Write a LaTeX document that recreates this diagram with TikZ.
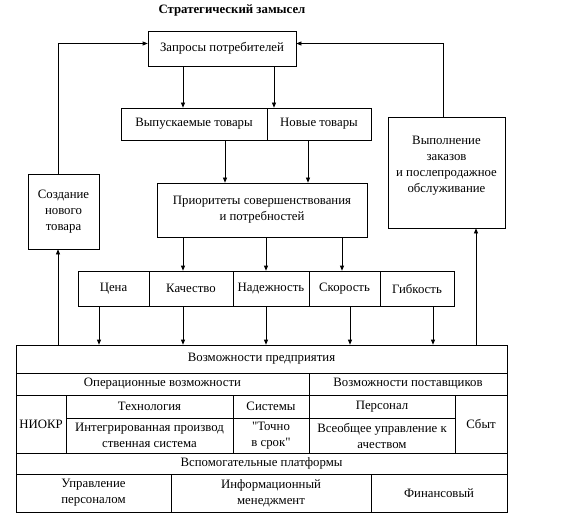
\documentclass[tikz,border=0pt]{standalone}
\usepackage{fontspec}
\setmainfont{Liberation Serif}
\usepackage{tikz}
\usetikzlibrary{arrows.meta, positioning}

\begin{document}
\begin{tikzpicture}[x=1pt, y=-1pt, line width=0.7pt,
    font=\fontsize{12.8}{16}\selectfont,
    box/.style={draw, rectangle, inner sep=0pt, align=center},
    arr/.style={-{Triangle[length=5pt, width=4pt]}}]
        \useasboundingbox (0,0) rectangle (568,524);
        % Верх: запросы и товары
        \node[font=\fontsize{12.8}{16}\selectfont\bfseries] (title) at (232,10) {Стратегический замысел};
        \node[box, minimum width=148, minimum height=35] (zapr) at (222,48.5) {Запросы потребителей};
        \node[box, minimum width=146, minimum height=32] (vyp) at (194,124) {Выпускаемые товары};
        \node[box, minimum width=104, minimum height=32] (nov) at (319,124) {Новые товары};
        \node[box, minimum width=117, minimum height=111] (vypoln) at (446.5,172.5)
            {Выполнение\\заказов\\и послепродажное\\обслуживание\\[0pt]};
        \node[box, minimum width=71, minimum height=75] (sozd) at (63.5,211.5) {Создание\\нового\\товара};
        \node[box, minimum width=210, minimum height=54] (prior) at (262,210)
            {Приоритеты совершенствования\\и потребностей};
        \draw[arr] ([xshift=-39]zapr.south) -- ([xshift=-39]zapr.south |- vyp.north);
        \draw[arr] ([xshift=52]zapr.south) -- ([xshift=52]zapr.south |- nov.north);
        \draw[arr] ([xshift=31]vyp.south) -- ([xshift=31]vyp.south |- prior.north);
        \draw[arr] ([xshift=-11]nov.south) -- ([xshift=-11]nov.south |- prior.north);

        % Приоритеты
        \node[box, minimum width=71, minimum height=35] (cena) at (113.5,288.5) {Цена};
        \node[box, minimum width=84, minimum height=35] (kach) at (191,288.5) {Качество};
        \node[box, minimum width=76, minimum height=35] (nadezh) at (271,288.5) {Надежность};
        \node[box, minimum width=71, minimum height=35] (skor) at (344.5,288.5) {Скорость};
        \node[box, minimum width=74, minimum height=35] (gib) at (417,288.5) {Гибкость};
        \draw[arr] ([xshift=-79]prior.south) -- ([xshift=-79]prior.south |- kach.north);
        \draw[arr] ([xshift=4]prior.south) -- ([xshift=4]prior.south |- nadezh.north);
        \draw[arr] ([xshift=80]prior.south) -- ([xshift=80]prior.south |- skor.north);

        % Возможности предприятия
        \node[box, minimum width=491, minimum height=28] (vozm) at (261.5,359) {Возможности предприятия};
        \node[box, minimum width=293, minimum height=22] (oper) at (162.5,384) {Операционные возможности};
        \node[box, minimum width=198, minimum height=22] (post) at (408,384) {Возможности поставщиков};
        \node[box, minimum width=50, minimum height=58] (niokr) at (41,424) {НИОКР};
        \node[box, minimum width=167, minimum height=23] (tech) at (149.5,406.5) {Технология};
        \node[box, minimum width=167, minimum height=35] (integr) at (149.5,435.5)
            {Интегрированная производ\\ственная система};
        \node[box, minimum width=76, minimum height=23] (sist) at (271,406.5) {Системы};
        \node[box, minimum width=76, minimum height=35] (tochno) at (271,435.5)
            {\addfontfeatures{Ligatures=TeXOff}"Точно\\\addfontfeatures{Ligatures=TeXOff}в срок"};
        \node[box, minimum width=146, minimum height=23] (pers) at (382,406.5) {Персонал};
        \node[box, minimum width=146, minimum height=35] (tqm) at (382,435.5)
            {Всеобщее управление к\\ачеством};
        \node[box, minimum width=52, minimum height=58] (sbyt) at (481,424) {Сбыт};
        \node[box, minimum width=491, minimum height=21] (vspom) at (261.5,463.5) {Вспомогательные платформы};
        \node[box, minimum width=155, minimum height=38] (upr) at (93.5,493) {Управление\\персоналом};
        \node[box, minimum width=200, minimum height=38] (inform) at (271,493) {Информационный\\менеджмент};
        \node[box, minimum width=136, minimum height=38] (fin) at (439,493) {Финансовый};
        \draw[arr] ([xshift=-14.5]cena.south) -- ([xshift=-14.5]cena.south |- vozm.north);
        \draw[arr] ([xshift=-8]kach.south) -- ([xshift=-8]kach.south |- vozm.north);
        \draw[arr] ([xshift=-5]nadezh.south) -- ([xshift=-5]nadezh.south |- vozm.north);
        \draw[arr] ([xshift=5.5]skor.south) -- ([xshift=5.5]skor.south |- vozm.north);
        \draw[arr] ([xshift=16]gib.south) -- ([xshift=16]gib.south |- vozm.north);

        % Обратные связи
        \draw[arr] ([xshift=-5.5]sozd.south |- vozm.north) -- ([xshift=-5.5]sozd.south);
        \draw[arr] ([xshift=-5.5]sozd.north) |- ([yshift=5]zapr.west);
        \draw[arr] ([xshift=29.5]vypoln.south |- vozm.north) -- ([xshift=29.5]vypoln.south);
        \draw[arr] ([xshift=-3.5]vypoln.north) |- ([yshift=5]zapr.east);
    \end{tikzpicture}
\end{document}
